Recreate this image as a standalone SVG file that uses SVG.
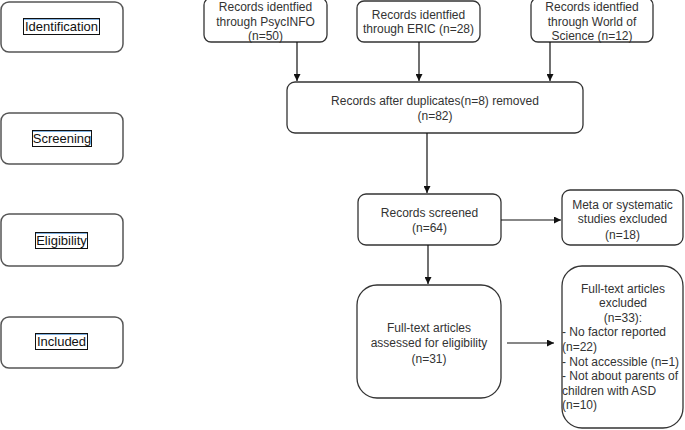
<svg xmlns="http://www.w3.org/2000/svg" width="685" height="430" viewBox="0 0 685 430">
<style>
.box{fill:#fff;stroke:#333;stroke-width:1.3}
.stage{fill:#fff;stroke:#555;stroke-width:1.5}
.t{font-family:"Liberation Sans",Arial,sans-serif;font-size:12px;fill:#333;text-anchor:middle}
.tl{font-family:"Liberation Sans",Arial,sans-serif;font-size:12px;fill:#333}
.lab{font-family:"Liberation Sans",Arial,sans-serif;font-size:13px;fill:#111;text-anchor:middle}
.lb{fill:#fff;stroke:#111;stroke-width:1}
.lbt{stroke:#7fb0e0;stroke-width:1}
.c{stroke:#111;stroke-width:1.2;fill:none}
</style>
<defs>
<marker id="ah" viewBox="0 0 10 10" refX="10" refY="5" markerWidth="7" markerHeight="7" markerUnits="userSpaceOnUse" orient="auto">
<path d="M0,0 L10,5 L0,10 Z" fill="#111"/>
</marker>
</defs>

<g id="stage-identification">
<rect class="stage" x="1" y="2" width="122" height="50" rx="8"/>
<rect class="lb" x="23.5" y="18.5" width="76" height="16"/>
<line class="lbt" x1="24" y1="19.5" x2="99" y2="19.5"/>
<text class="lab" x="61.5" y="31">Identification</text>
</g>
<g id="stage-screening">
<rect class="stage" x="1" y="113" width="122" height="51" rx="8"/>
<rect class="lb" x="32.5" y="130.5" width="59" height="16"/>
<line class="lbt" x1="33" y1="131.5" x2="91" y2="131.5"/>
<text class="lab" x="62" y="143">Screening</text>
</g>
<g id="stage-eligibility">
<rect class="stage" x="1" y="214" width="122" height="52" rx="8"/>
<rect class="lb" x="35.5" y="232.5" width="52" height="16"/>
<line class="lbt" x1="36" y1="233.5" x2="87" y2="233.5"/>
<text class="lab" x="61.5" y="245">Eligibility</text>
</g>
<g id="stage-included">
<rect class="stage" x="1" y="317" width="122" height="51" rx="8"/>
<rect class="lb" x="35.5" y="333.5" width="52" height="16"/>
<line class="lbt" x1="36" y1="334.5" x2="87" y2="334.5"/>
<text class="lab" x="61.5" y="346">Included</text>
</g>

<g id="psycinfo">
<rect class="box" x="204" y="-2" width="123" height="44" rx="7"/>
<text class="t" x="265.5" y="11">Records identfied</text>
<text class="t" x="265.5" y="25.5">through PsycINFO</text>
<text class="t" x="265.5" y="40">(n=50)</text>
</g>
<g id="eric">
<rect class="box" x="357" y="1" width="123" height="41" rx="7"/>
<text class="t" x="418.5" y="18.5">Records identfied</text>
<text class="t" x="418.5" y="33">through ERIC (n=28)</text>
</g>
<g id="wos">
<rect class="box" x="531" y="-2" width="122" height="44" rx="7"/>
<text class="t" x="592" y="11">Records identfied</text>
<text class="t" x="592" y="25.5">through World of</text>
<text class="t" x="592" y="40">Science (n=12)</text>
</g>
<g id="duplicates">
<rect class="box" x="287" y="82" width="296" height="51" rx="8"/>
<text class="t" x="435" y="105">Records after duplicates(n=8) removed</text>
<text class="t" x="435" y="119.5">(n=82)</text>
</g>
<g id="screened">
<rect class="box" x="358" y="194" width="143" height="51" rx="8"/>
<text class="t" x="429.5" y="217">Records screened</text>
<text class="t" x="429.5" y="232">(n=64)</text>
</g>
<g id="meta">
<rect class="box" x="562" y="190" width="121" height="55" rx="8"/>
<text class="t" x="622.5" y="209">Meta or systematic</text>
<text class="t" x="622.5" y="223">studies excluded</text>
<text class="t" x="622.5" y="238.5">(n=18)</text>
</g>
<g id="assessed">
<rect class="box" x="357" y="285" width="144" height="113" rx="20"/>
<text class="t" x="429" y="331.5">Full-text articles</text>
<text class="t" x="429" y="347">assessed for eligibility</text>
<text class="t" x="429" y="362.5">(n=31)</text>
</g>
<g id="excluded">
<rect class="box" x="562" y="266" width="121" height="162" rx="20"/>
<text class="t" x="623" y="293">Full-text articles</text>
<text class="t" x="623" y="307">excluded</text>
<text class="t" x="623" y="322">(n=33):</text>
<text class="tl" x="562" y="336">- No factor reported</text>
<text class="tl" x="562" y="351">(n=22)</text>
<text class="tl" x="562" y="366">- Not accessible (n=1)</text>
<text class="tl" x="562" y="380">- Not about parents of</text>
<text class="tl" x="562" y="394.5">children with ASD</text>
<text class="tl" x="562" y="409">(n=10)</text>
</g>

<g id="connectors">
<line class="c" x1="297" y1="42" x2="297" y2="81" marker-end="url(#ah)"/>
<line class="c" x1="419" y1="42" x2="419" y2="81" marker-end="url(#ah)"/>
<line class="c" x1="550" y1="42" x2="550" y2="81" marker-end="url(#ah)"/>
<line class="c" x1="427" y1="133" x2="427" y2="193" marker-end="url(#ah)"/>
<line class="c" x1="501" y1="220" x2="561" y2="220" marker-end="url(#ah)"/>
<line class="c" x1="428" y1="245" x2="428" y2="284" marker-end="url(#ah)"/>
<line class="c" x1="507" y1="343" x2="554" y2="343" marker-end="url(#ah)"/>
</g>
</svg>
